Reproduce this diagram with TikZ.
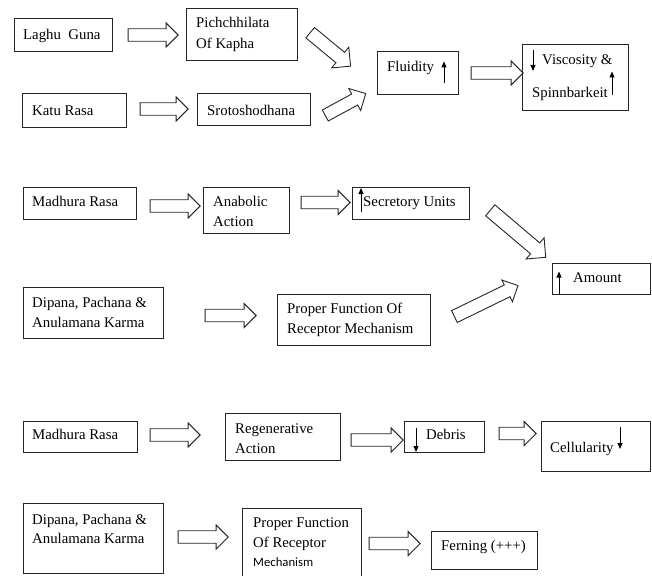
\documentclass[tikz,border=0pt]{standalone}
\usepackage{fontspec}
\setmainfont{Liberation Serif}
\newfontfamily\carlitofont{Carlito}
\usetikzlibrary{shapes.arrows,arrows.meta,fit}
\tikzset{
  box/.style={draw=black!85, line width=1pt, inner sep=0pt},
  txt/.style={anchor=base west, inner sep=0pt, font=\fontsize{14.8}{18}\selectfont},
  sanstxt/.style={anchor=base west, inner sep=0pt, font=\carlitofont\fontsize{12.7}{15}\selectfont},
  barrow/.style={draw=black!85, line width=0.9pt, single arrow, single arrow head extend=5.8pt,
    inner sep=5.8pt, minimum width=0pt},
  vtip/.style={line width=1pt, -{Triangle[length=6pt,width=5pt]}}
}
\begin{document}
\begin{tikzpicture}[x=1pt,y=-1pt]
\useasboundingbox (0,0) rectangle (652,575);
% ---------- boxes ----------
\node[box, fit={(14,19) (112,52)}] (lg) {};
\node[box, fit={(186,9) (297,61)}] (pk) {};
\node[box, fit={(22,94) (126,127)}] (kr) {};
\node[box, fit={(197,94) (310,125)}] (sr) {};
\node[box, fit={(377,52) (458,95)}] (fl) {};
\node[box, fit={(522,45) (628,110)}] (vs) {};
\node[box, fit={(23,187) (136,219)}] (mr1) {};
\node[box, fit={(203,187) (289,233)}] (an) {};
\node[box, fit={(352,187) (469,219)}] (su) {};
\node[box, fit={(552,263) (650,294)}] (am) {};
\node[box, fit={(23,287) (163,338)}] (dp1) {};
\node[box, fit={(277,294) (430,345)}] (pf1) {};
\node[box, fit={(23,421) (137,452)}] (mr2) {};
\node[box, fit={(225,413) (340,460)}] (rg) {};
\node[box, fit={(404,421) (484,452)}] (db) {};
\node[box, fit={(541,421) (650,471)}] (cl) {};
\node[box, fit={(23,503) (163,573)}] (dp2) {};
\node[box, fit={(242,508) (361,582)}] (pf2) {};
\node[box, fit={(431,531) (537,569)}] (fe) {};
% ---------- texts ----------
\node[txt] (t1) at (23,40) {Laghu\ \ Guna};
\node[txt] (t2) at (196,28) {Pichchhilata};
\node[txt] (t3) at (196,49) {Of Kapha};
\node[txt] (t4) at (32,115) {Katu Rasa};
\node[txt] (t5) at (207,115) {Srotoshodhana};
\node[txt] (t6) at (387,72) {Fluidity};
\node[txt] (t7) at (542,65) {Viscosity \&};
\node[txt] (t8) at (532,97) {Spinnbarkeit};
\node[txt] (t9) at (32,206) {Madhura Rasa};
\node[txt] (t10) at (213,206) {Anabolic};
\node[txt] (t11) at (213,226) {Action};
\node[txt] (t12) at (363,206) {Secretory Units};
\node[txt] (t13) at (573,282) {Amount};
\node[txt] (t14) at (32,307) {Dipana, Pachana \&};
\node[txt] (t15) at (32,327) {Anulamana Karma};
\node[txt] (t16) at (287,313) {Proper Function Of};
\node[txt] (t17) at (287,333) {Receptor Mechanism};
\node[txt] (t18) at (32,439) {Madhura Rasa};
\node[txt] (t19) at (235,433) {Regenerative};
\node[txt] (t20) at (235,453) {Action};
\node[txt] (t21) at (426,439) {Debris};
\node[txt] (t22) at (550,452) {Cellularity};
\node[txt] (t23) at (32,524) {Dipana, Pachana \&};
\node[txt] (t24) at (32,543) {Anulamana Karma};
\node[txt] (t25) at (253,527) {Proper Function};
\node[txt] (t26) at (253,547) {Of Receptor};
\node[sanstxt] (t27) at (253,566) {Mechanism};
\node[txt] (t28) at (441,550) {Ferning (+++)};
% ---------- block arrows ----------
\node[barrow, minimum height=50pt] (a1) at (150,35) {};
\node[barrow, minimum height=48pt] (a2) at (161,109) {};
\node[barrow, minimum height=52.5pt, inner sep=6.3pt, single arrow head extend=6.7pt, rotate=-39.6] (a3) at (327.75,47.25) {};
\node[barrow, minimum height=46pt, inner sep=5.8pt, single arrow head extend=6.3pt, rotate=28.5] (a4) at (342.75,106) {};
\node[barrow, minimum height=52pt] (a5) at (494,73) {};
\node[barrow, minimum height=50pt] (a6) at (172,206) {};
\node[barrow, minimum height=49pt] (a7) at (322.5,202.5) {};
\node[barrow, minimum height=72.7pt, inner sep=6.7pt, single arrow head extend=6.7pt, rotate=-40.3] (a8) at (515.25,231.5) {};
\node[barrow, minimum height=51pt] (a9) at (227.5,315.5) {};
\node[barrow, minimum height=70.7pt, inner sep=6.1pt, single arrow head extend=5.5pt, rotate=26] (a10) at (483.25,302.5) {};
\node[barrow, minimum height=50pt] (a11) at (172,435) {};
\node[barrow, minimum height=52pt] (a12) at (374,440) {};
\node[barrow, minimum height=37pt] (a13) at (514.5,433.5) {};
\node[barrow, minimum height=50pt] (a14) at (200,537) {};
\node[barrow, minimum height=51pt] (a15) at (391.5,543.5) {};
% ---------- small up/down arrows ----------
\draw[vtip] (444,83.5) -- (444,61.5);
\draw[vtip] (533,50) -- (533,71);
\draw[vtip] (612,95) -- (612,71.5);
\draw[vtip] (361,212) -- (361,188);
\draw[vtip] (559,294) -- (559,271.5);
\draw[vtip] (416,428) -- (416,452);
\draw[vtip] (620,427) -- (620,449);
\end{tikzpicture}
\end{document}
